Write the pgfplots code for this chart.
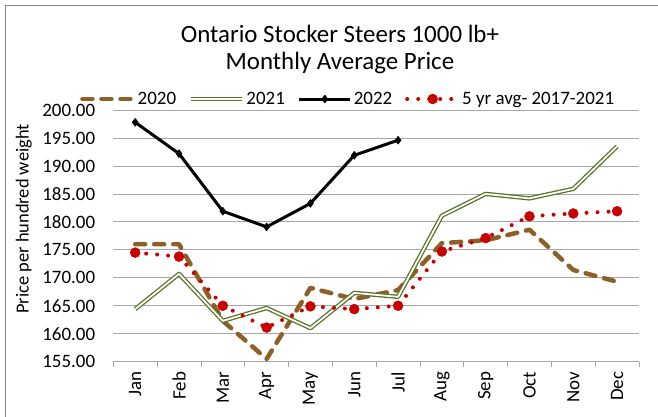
\documentclass[border=0pt]{standalone}
\usepackage{pgfplots}
\pgfplotsset{compat=1.18}
\usepackage{fontspec}
\setmainfont{Carlito}
\definecolor{c2020}{RGB}{140,96,38}
\definecolor{c2021}{RGB}{90,115,40}
\definecolor{c5yr}{RGB}{200,0,0}
\definecolor{gridc}{RGB}{166,166,166}
\definecolor{framec}{RGB}{134,134,134}
\begin{document}
\begin{tikzpicture}
\useasboundingbox (0,0) rectangle (658bp,417bp);
\draw[framec, line width=1.2bp] (5.5bp,0) -- (5.5bp,411.5bp) -- (658bp,411.5bp);
\begin{axis}[
  at={(113.3bp,55.3bp)}, anchor=south west,
  scale only axis, width=525.7bp, height=251.7bp,
  xmin=-0.5, xmax=11.5, ymin=155, ymax=200,
  axis x line*=bottom, axis y line*=left,
  y axis line style={draw=none},
  x axis line style={gridc, line width=0.75bp},
  xtick={0,...,11},
  xticklabels={Jan,Feb,Mar,Apr,May,Jun,Jul,Aug,Sep,Oct,Nov,Dec},
  minor xtick={-0.5,0.5,...,11.5},
  ytick={155,160,...,200},
  tick align=outside,
  major tick length=0pt,
  minor tick length=5.5bp,
  tick style={gridc, line width=0.75bp},
  ymajorgrids,
  grid style={gridc, line width=0.75bp},
  /pgf/number format/.cd, fixed, fixed zerofill, precision=2, 1000 sep={}, assume math mode=true,
  /pgfplots/.cd,
  yticklabel style={inner sep=0pt, xshift=-18bp, font=\fontsize{19}{22}\selectfont},
  xticklabel shift=10bp,
  xticklabel style={rotate=90, anchor=east, inner sep=0pt, font=\fontsize{19}{22}\selectfont},
  ylabel={Price per hundred weight},
  ylabel style={at={(rel axis cs:-0.170,0.567)}, anchor=center, font=\fontsize{18.5}{22}\selectfont},
  title={Ontario Stocker Steers 1000 lb+\\Monthly Average Price},
  title style={at={(rel axis cs:0.431,1.2175)}, anchor=center, align=center, font=\fontsize{25}{27}\selectfont},
  legend columns=4,
  legend cell align=left,
  legend style={at={(rel axis cs:-0.0633,1.0437)}, anchor=west, draw=none, fill=none, inner sep=0pt,
    font=\fontsize{19}{22}\selectfont,
    /tikz/every even column/.append style={column sep=11bp}},
  legend image code/.code={\draw[mark repeat=2, mark phase=2, #1] plot coordinates {(0bp,0bp) (25.5bp,0bp) (51bp,0bp)};},
]
\addplot[c2020, line width=4.5bp, line cap=round, line join=round, dash pattern=on 10bp off 9bp]
  coordinates {(0,176.0) (1,176.0) (2,162.3) (3,155.5) (4,168.2) (5,166.2) (6,167.8) (7,176.2) (8,176.7) (9,178.6) (10,171.4) (11,169.3)};
\addlegendentry{2020}
\addplot[c2021, line width=1.3bp, double=white, double distance=1.8bp, line join=round]
  coordinates {(0,164.4) (1,170.7) (2,162.3) (3,164.6) (4,161.0) (5,167.3) (6,166.6) (7,181.1) (8,185.0) (9,184.2) (10,185.9) (11,193.5)};
\addlegendentry{2021}
\addplot[black, line width=3bp, line join=round, mark=diamond*, mark size=4bp, mark options={solid, line width=0.5bp}]
  coordinates {(0,197.8) (1,192.2) (2,181.9) (3,179.1) (4,183.3) (5,191.9) (6,194.6)};
\addlegendentry{2022}
\addplot[c5yr, line width=4bp, line cap=round, dash pattern=on 0bp off 11bp, mark=*, mark size=5bp, mark options={solid, line width=0.4bp}]
  coordinates {(0,174.5) (1,173.8) (2,165.0) (3,161.1) (4,164.9) (5,164.4) (6,165.0) (7,174.7) (8,177.1) (9,181.0) (10,181.5) (11,181.9)};
\addlegendentry{5 yr avg- 2017-2021}
\end{axis}
\end{tikzpicture}
\end{document}
